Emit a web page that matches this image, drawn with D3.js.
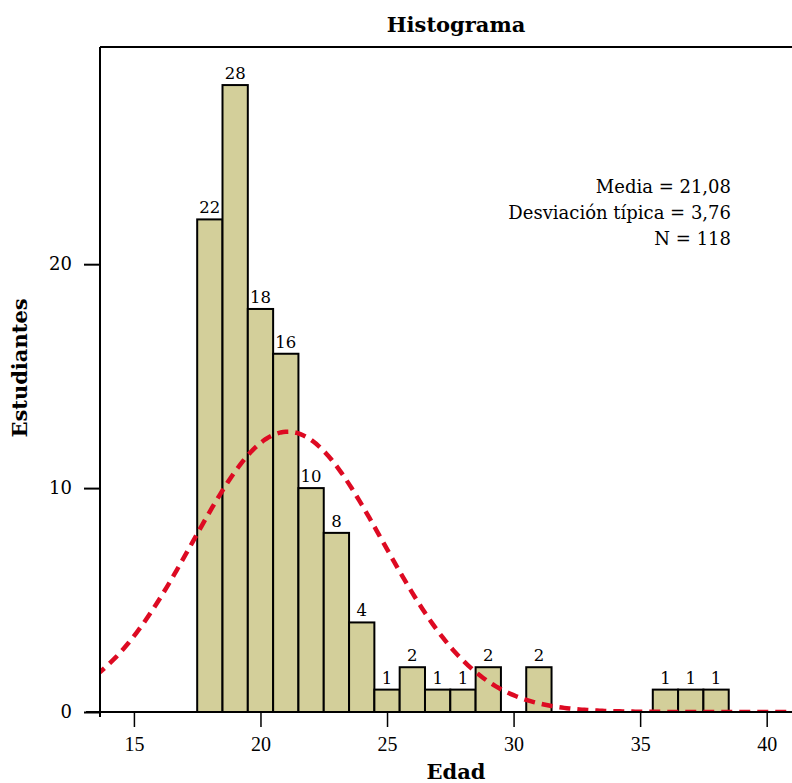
<!DOCTYPE html>
<html>
<head>
<meta charset="utf-8">
<script src="https://cdn.jsdelivr.net/npm/d3@7"></script>
<style>
  body { margin: 0; background: #fff; }
  svg { display: block; }
</style>
</head>
<body>
<div id="chart"></div>
<script>
// edades (centro de cada barra) y frecuencias
const ages = [18, 19, 20, 21, 22, 23, 24, 25, 26, 27, 28, 29, 31, 36, 37, 38];
const counts = [22, 28, 18, 16, 10, 8, 4, 1, 2, 1, 1, 2, 2, 1, 1, 1];
const xTicks = [15, 20, 25, 30, 35, 40];
const yTicks = [0, 10, 20];
const statLines = ["Media = 21,08", "Desviación típica = 3,76", "N = 118"];
const mean = 21.08;
const sd = 3.76;
const total = 118;

const width = 792;
const height = 783;
const margin = {top: 47, right: 0, bottom: 71, left: 100};

const svg = d3.select("#chart").append("svg")
  .attr("width", width)
  .attr("height", height);

const x = d3.scaleLinear()
  .domain([13.66, 41.0])
  .range([margin.left, width - margin.right]);

const y = d3.scaleLinear()
  .domain([0, 29.7])
  .range([height - margin.bottom, margin.top]);

const serif = "'Liberation Serif', 'Times New Roman', serif";
const serif2 = "'DejaVu Serif', Georgia, serif";

svg.append("defs").append("clipPath")
  .attr("id", "plot")
  .append("rect")
  .attr("x", margin.left)
  .attr("y", margin.top)
  .attr("width", width - margin.left - margin.right)
  .attr("height", height - margin.top - margin.bottom);

// bars
const bars = ages.map((a, i) => ({age: a, n: counts[i]}));

svg.append("g")
  .attr("fill", "#d3cf9a")
  .attr("stroke", "#000")
  .attr("stroke-width", 2)
  .selectAll("rect")
  .data(bars)
  .join("rect")
  .attr("x", d => x(d.age - 0.5))
  .attr("y", d => y(d.n))
  .attr("width", d => x(d.age + 0.5) - x(d.age - 0.5))
  .attr("height", d => y(0) - y(d.n));

svg.append("g")
  .attr("font-family", serif2)
  .attr("font-size", 16.5)
  .attr("text-anchor", "middle")
  .selectAll("text")
  .data(bars)
  .join("text")
  .attr("x", d => x(d.age))
  .attr("y", d => y(d.n) - 6)
  .text(d => d.n);

// curva normal a partir de media / desviación indicadas
const curve = d3.range(13.5, 41.2, 0.1).map(v => {
  const z = (v - mean) / sd;
  return [v, total / (sd * Math.sqrt(2 * Math.PI)) * Math.exp(-0.5 * z * z)];
});

svg.append("path")
  .datum(curve)
  .attr("clip-path", "url(#plot)")
  .attr("fill", "none")
  .attr("stroke", "#dd0a22")
  .attr("stroke-width", 4.5)
  .attr("stroke-dasharray", "11,7")
  .attr("d", d3.line().x(d => x(d[0])).y(d => y(d[1])));

// marco: linea superior + ejes
svg.append("line")
  .attr("x1", margin.left).attr("x2", width)
  .attr("y1", margin.top).attr("y2", margin.top)
  .attr("stroke", "#000").attr("stroke-width", 2);

const xAxis = svg.append("g")
  .attr("transform", `translate(0,${y(0)})`)
  .call(d3.axisBottom(x).tickValues(xTicks).tickSize(15).tickSizeOuter(0).tickPadding(10));
xAxis.select(".domain").remove();
xAxis.append("line")
  .attr("x1", margin.left - 14).attr("x2", width)
  .attr("stroke", "#000").attr("stroke-width", 2);
xAxis.selectAll(".tick line").attr("stroke-width", 1.5);
xAxis.selectAll(".tick text")
  .attr("font-family", serif)
  .attr("font-size", 20)
  .attr("fill", "#000");

const yAxis = svg.append("g")
  .attr("transform", `translate(${margin.left},0)`)
  .call(d3.axisLeft(y).tickValues(yTicks).tickSize(16).tickSizeOuter(0).tickPadding(12));
yAxis.select(".domain").remove();
yAxis.append("line")
  .attr("y1", margin.top).attr("y2", y(0) + 5)
  .attr("stroke", "#000").attr("stroke-width", 2);
yAxis.selectAll(".tick line").attr("stroke-width", 2);
yAxis.selectAll(".tick text")
  .attr("font-family", serif2)
  .attr("font-size", 18)
  .attr("fill", "#000");

// titulos
svg.append("text")
  .attr("x", 456).attr("y", 32)
  .attr("text-anchor", "middle")
  .attr("font-family", serif2)
  .attr("font-weight", "bold")
  .attr("font-size", 21)
  .text("Histograma");

svg.append("text")
  .attr("x", 456).attr("y", 779)
  .attr("text-anchor", "middle")
  .attr("font-family", serif2)
  .attr("font-weight", "bold")
  .attr("font-size", 21)
  .text("Edad");

svg.append("text")
  .attr("transform", `translate(27,368) rotate(-90)`)
  .attr("text-anchor", "middle")
  .attr("font-family", serif2)
  .attr("font-weight", "bold")
  .attr("font-size", 21)
  .text("Estudiantes");

// recuadro de estadisticos
svg.append("g")
  .attr("font-family", serif2)
  .attr("font-size", 18)
  .attr("text-anchor", "end")
  .selectAll("text")
  .data(statLines)
  .join("text")
  .attr("x", 731)
  .attr("y", (d, i) => 193 + i * 26)
  .text(d => d);
</script>
</body>
</html>
